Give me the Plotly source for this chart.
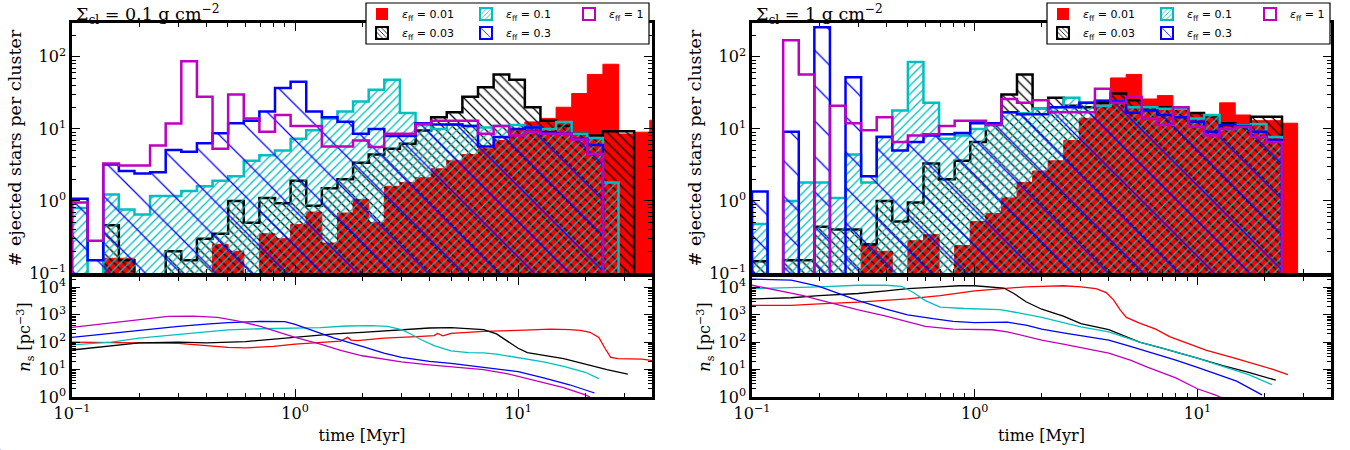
import numpy as np
import plotly.graph_objects as go

# ---------------- binning of the ejection-time histograms ----------------
LOG_T_MIN = -1.0   # log10(first bin edge / Myr)
DLOG_BIN = 0.07    # bin width in dex

EFF_LABELS = ["0.01", "0.03", "0.1", "0.3", "1"]

# ---------------- Sigma_cl = 0.1 g cm^-2 : ejected stars per cluster ----------------
hist_s01_e001 = [0, 0, 0.16, 0.16, 0, 0, 0, 0, 0, 0.25, 0.2, 0, 0.35, 0.3, 0.47, 0.7, 0.26, 0.68,
                 1.05, 0.5, 1.6, 1.8, 2.1, 2.8, 3.6, 4.4, 5.3, 6.9, 9.5, 12.5, 14, 20, 31, 57, 79,
                 8.5, 9, 13.2]
hist_s01_e003 = [0, 0, 0.46, 0.15, 0, 0, 0.2, 0.15, 0.3, 0.35, 1.0, 0.5, 1.1, 0.93, 1.9, 0.86, 1.5,
                 2.0, 3.4, 4.4, 5.3, 6.2, 9.5, 14.5, 17, 28, 38, 57, 48, 20, 13, 11, 8.6, 8.1, 9.3, 9.3]
hist_s01_e01 = [0.8, 0, 1.23, 0.76, 0.65, 1.17, 1.17, 1.37, 1.6, 1.9, 2.2, 3.6, 4.3, 5.0, 7.3, 9.6,
                14, 17.4, 24, 35, 48, 16.6, 11.3, 10, 11.5, 11, 10.5, 11, 11.3, 10.5, 10, 12.5, 8.6,
                7.5, 1.8]
hist_s01_e03 = [1.07, 0.15, 3.2, 2.6, 2.4, 2.5, 5.1, 4.8, 6.3, 8.7, 12, 13, 17.4, 37, 45, 17.4, 14.5,
                12.6, 8.6, 10, 8, 8, 12, 11.5, 11.5, 11, 5.7, 7.7, 10, 10.5, 9, 8.6, 7.3, 6]
hist_s01_e1 = [0.95, 0.28, 3.3, 3.1, 3.1, 5.9, 11.9, 87, 28, 5.3, 30, 14, 9.1, 15.6, 11, 11, 5.7, 5.7,
               6.9, 5.6, 8.6, 8.6, 11.7, 13, 13, 13, 8.6, 11, 8.1, 9.1, 8.6, 8.6, 7.1, 4.5]

# ---------------- Sigma_cl = 1 g cm^-2 : ejected stars per cluster ----------------
hist_s1_e001 = [0, 0, 0, 0, 0, 0, 0, 0.245, 0.2, 0, 0.28, 0.34, 0, 0.24, 0.52, 0.67, 1.1, 1.8, 2.6,
                3.6, 6.9, 14, 25, 51, 57, 26, 29, 20, 16, 15.6, 23, 15.6, 13, 13, 12]
hist_s1_e003 = [0.145, 0, 0.15, 0.15, 0.44, 0.4, 0.4, 0.25, 1.0, 0.52, 0.95, 3.3, 2.0, 3.6, 6.6, 12,
                30, 57, 19, 27, 21, 20, 23, 31, 25, 19, 20, 19, 16.6, 15, 12, 11.3, 14.8, 14.8]
hist_s1_e01 = [0.48, 0, 1.0, 1.8, 1.8, 1.1, 4.4, 1.8, 7.8, 18, 85, 23, 7.3, 8.1, 10, 11.3, 17, 16.5,
               19, 20, 27, 23, 21, 24, 20, 20, 19, 19, 14, 15.6, 10, 11.3, 11.7, 7.7]
hist_s1_e03 = [1.35, 0, 9.1, 0, 257, 0, 52, 2.2, 7.7, 5.0, 6.6, 8.1, 8.4, 8.8, 12, 12, 17, 16, 16,
               20, 20, 23, 24.6, 24, 16.7, 18, 15.6, 14.5, 12.6, 9.1, 11.3, 11, 9.1, 7]
hist_s1_e1 = [0, 0, 170, 57, 0, 21, 12, 9.6, 14.5, 6.6, 8.1, 8.4, 11, 13, 13, 11.3, 26, 23, 25, 17,
              17, 17, 36, 23, 28, 14, 11.3, 20, 10.7, 8.1, 10, 10.7, 7.7, 6.6]

# ---------------- stellar density n_s(t) [pc^-3], Sigma_cl = 0.1 ----------------
t_s01_e001 = [0.1, 0.2, 0.3, 0.4, 0.5, 0.6, 0.8, 1.0, 1.3, 1.6, 1.72, 1.78, 1.9, 2.5, 3.5, 4.2, 4.35,
              4.6, 5.0, 7.0, 10, 14, 17, 19, 21, 23, 24.5, 26, 28, 32, 36, 40]
n_s01_e001 = [100, 95, 90, 75, 65, 62, 70, 85, 100, 110, 150, 120, 115, 140, 160, 175, 210, 170, 210,
              250, 270, 300, 290, 270, 230, 150, 60, 28, 25, 25, 24, 21]
t_s01_e003 = [0.1, 0.15, 0.2, 0.3, 0.4, 0.6, 0.8, 1.0, 1.5, 2.0, 2.5, 3.0, 4.0, 5.0, 6.0, 7.0, 8.0,
              9.0, 10, 11, 13, 16, 20, 25, 31]
n_s01_e003 = [52, 75, 95, 100, 95, 105, 130, 150, 200, 230, 260, 290, 330, 340, 320, 290, 200, 110,
              60, 42, 33, 25, 16, 10, 6.8]
t_s01_e01 = [0.1, 0.15, 0.2, 0.3, 0.5, 0.7, 1.0, 1.3, 1.7, 2.2, 2.6, 3.0, 3.3, 3.7, 4.2, 5.0, 6.0,
             7.0, 8.0, 10, 13, 16, 20, 23]
n_s01_e01 = [80, 100, 140, 190, 280, 310, 320, 340, 390, 400, 380, 290, 200, 120, 75, 48, 42, 41, 37,
             27, 19, 13, 8, 4.7]
t_s01_e03 = [0.1, 0.2, 0.3, 0.4, 0.5, 0.7, 0.9, 1.0, 1.2, 1.5, 2.0, 2.5, 3.0, 4.0, 5.0, 7.0, 10, 13,
             17, 22]
n_s01_e03 = [150, 280, 380, 460, 520, 570, 560, 450, 260, 140, 70, 40, 28, 20, 17, 12, 8.5, 5, 2.8,
             1.4]
t_s01_e1 = [0.1, 0.15, 0.2, 0.27, 0.35, 0.45, 0.55, 0.7, 0.85, 1.0, 1.3, 1.6, 2.0, 2.5, 3.0, 4.0,
            5.0, 7.0, 9.0, 12, 16, 20, 21]
n_s01_e1 = [350, 500, 680, 880, 900, 800, 600, 380, 230, 150, 85, 50, 32, 24, 19, 15, 13, 10, 7, 4,
            2.2, 1.2, 1.0]

# ---------------- stellar density n_s(t) [pc^-3], Sigma_cl = 1 ----------------
t_s1_e001 = [0.1, 0.15, 0.2, 0.3, 0.5, 0.7, 1.0, 1.3, 1.7, 2.0, 2.5, 3.0, 3.5, 3.9, 4.2, 4.5, 4.8,
             5.5, 6.5, 7.5, 9.4, 11, 14.7, 18, 22, 25.5]
n_s1_e001 = [2200, 2200, 2500, 2900, 3800, 5000, 7500, 9000, 10500, 11000, 11500, 10500, 9000, 6500,
             3500, 1500, 800, 500, 300, 160, 80, 50, 26, 16, 10, 6.5]
t_s1_e003 = [0.1, 0.15, 0.2, 0.3, 0.4, 0.5, 0.7, 0.85, 1.0, 1.2, 1.35, 1.5, 1.7, 2.0, 2.5, 3.0, 4.0,
             5.5, 7.0, 10, 13, 17, 22.5]
n_s1_e003 = [3800, 4200, 5000, 6000, 7500, 9000, 10500, 11500, 11500, 10500, 9500, 6000, 3000, 1600,
             900, 480, 290, 100, 60, 26, 14, 8, 4.1]
t_s1_e01 = [0.1, 0.15, 0.2, 0.3, 0.4, 0.47, 0.53, 0.6, 0.7, 0.9, 1.1, 1.3, 1.6, 2.0, 2.5, 3.0, 4.0,
            5.5, 7.0, 10, 13, 17, 21.6]
n_s1_e01 = [9000, 9500, 10500, 12000, 12000, 11000, 6500, 3300, 1900, 1700, 1650, 1550, 1150, 800,
            520, 360, 240, 100, 60, 26, 13, 6.5, 2.8]
t_s1_e03 = [0.1, 0.15, 0.2, 0.25, 0.3, 0.4, 0.5, 0.65, 0.8, 1.0, 1.2, 1.4, 1.7, 2.0, 2.5, 3.0, 4.0,
            5.0, 6.0, 8.0, 10, 12, 15, 19.5]
n_s1_e03 = [20000, 18500, 11000, 5500, 3300, 1600, 1000, 720, 580, 520, 540, 540, 420, 300, 220, 170,
            120, 70, 45, 22, 12, 7, 3.8, 1.2]
t_s1_e1 = [0.1, 0.13, 0.17, 0.2, 0.25, 0.3, 0.4, 0.5, 0.6, 0.8, 1.0, 1.2, 1.4, 1.7, 2.0, 2.5, 3.0,
           4.0, 5.0, 6.0, 8.0, 10, 12, 13]
n_s1_e1 = [12000, 8000, 5000, 3500, 2200, 1500, 900, 550, 380, 300, 290, 285, 240, 160, 120, 85, 65,
           40, 22, 12, 5, 2.0, 1.2, 0.9]

# ---------------- styling ----------------
COLORS = ["#ff0000", "#000000", "#00bfbf", "#0000ff", "#bf00bf"]
SERIF = "DejaVu Serif"
SANS = "DejaVu Sans"
FLOOR = 1e-3  # stand-in for empty bins on the log axis (below the visible range)

fig = go.Figure()


def step_xy(counts):
    n = len(counts)
    edges = 10 ** (LOG_T_MIN + DLOG_BIN * np.arange(n + 1))
    vals = [c if c > 0 else FLOOR for c in counts]
    xs, ys = [edges[0]], [FLOOR]
    for i in range(n):
        xs += [edges[i], edges[i + 1]]
        ys += [vals[i], vals[i]]
    xs += [edges[n]]
    ys += [FLOOR]
    return xs, ys


def add_hist(counts, idx, xa, ya):
    xs, ys = step_xy(counts)
    c = COLORS[idx]
    kw = dict(x=xs, y=ys, mode="lines", fill="toself", xaxis=xa, yaxis=ya,
              showlegend=False, hoverinfo="skip")
    if idx == 0:
        kw.update(line=dict(color=c, width=1), fillcolor=c)
    elif idx == 1:
        kw.update(line=dict(color=c, width=2.5), fillcolor="rgba(0,0,0,0)",
                  fillpattern=dict(shape="\\", fgcolor=c, bgcolor="rgba(0,0,0,0)",
                                   size=7, solidity=0.18, fillmode="replace"))
    elif idx == 2:
        kw.update(line=dict(color=c, width=2.5), fillcolor="rgba(0,0,0,0)",
                  fillpattern=dict(shape="/", fgcolor=c, bgcolor="rgba(0,0,0,0)",
                                   size=6, solidity=0.22, fillmode="replace"))
    elif idx == 3:
        kw.update(line=dict(color=c, width=2.5), fillcolor="rgba(0,0,0,0)",
                  fillpattern=dict(shape="\\", fgcolor=c, bgcolor="rgba(0,0,0,0)",
                                   size=25, solidity=0.05, fillmode="replace"))
    else:
        kw.update(line=dict(color=c, width=2.5), fill="none")
    fig.add_trace(go.Scatter(**kw))


def add_line(t, n, idx, xa, ya):
    fig.add_trace(go.Scatter(x=t, y=n, mode="lines", xaxis=xa, yaxis=ya,
                             line=dict(color=COLORS[idx], width=1.3),
                             showlegend=False, hoverinfo="skip"))


panels = [
    dict(hists=[hist_s01_e001, hist_s01_e003, hist_s01_e01, hist_s01_e03, hist_s01_e1],
         lines=[(t_s01_e001, n_s01_e001), (t_s01_e003, n_s01_e003), (t_s01_e01, n_s01_e01),
                (t_s01_e03, n_s01_e03), (t_s01_e1, n_s01_e1)],
         xt="x", yt="y", xb="x2", yb="y2", legs=("legend", "legend2", "legend3"), box=366),
    dict(hists=[hist_s1_e001, hist_s1_e003, hist_s1_e01, hist_s1_e03, hist_s1_e1],
         lines=[(t_s1_e001, n_s1_e001), (t_s1_e003, n_s1_e003), (t_s1_e01, n_s1_e01),
                (t_s1_e03, n_s1_e03), (t_s1_e1, n_s1_e1)],
         xt="x3", yt="y3", xb="x4", yb="y4", legs=("legend4", "legend5", "legend6"), box=1047),
]

for p in panels:
    for i, h in enumerate(p["hists"]):
        add_hist(h, i, p["xt"], p["yt"])
    for i, (t, n) in enumerate(p["lines"]):
        add_line(t, n, i, p["xb"], p["yb"])

# legend entries (zero-height bars on a hidden axis so the swatches show the hatches)
# matplotlib ncol=3 layout: row 1 -> 0.01, 0.1 | 1 ; row 2 -> 0.03, 0.3
LEG_SLOTS = [(0, 0), (2, 0), (4, 2), (1, 1), (3, 1)]  # (series index, legend slot)
for p in panels:
    for idx, slot in LEG_SLOTS:
        c = COLORS[idx]
        if idx == 0:
            marker = dict(color=c, line=dict(color=c, width=0))
        elif idx == 4:
            marker = dict(color="white", line=dict(color=c, width=2))
        else:
            shape = {1: "\\", 2: "/", 3: "\\"}[idx]
            size = {1: 4, 2: 4, 3: 10}[idx]
            marker = dict(color="white", line=dict(color=c, width=2),
                          pattern=dict(shape=shape, fgcolor=c, bgcolor="white", size=size,
                                       solidity=0.25 if idx != 3 else 0.1, fillmode="replace"))
        fig.add_trace(go.Bar(x=[0], y=[0], xaxis="x5", yaxis="y5", marker=marker,
                             name="<i>ε</i><sub>ff</sub> = " + EFF_LABELS[idx],
                             legend=p["legs"][slot], hoverinfo="skip"))

W, H = 1350, 450
LX = [72 / W, 652 / W]
RX = [752 / W, 1331 / W]
TOPY = [1 - 273 / H, 1 - 23 / H]
BOTY = [1 - 397 / H, 1 - 277 / H]

minor = dict(ticks="inside", ticklen=4, tickwidth=1, tickcolor="black", dtick="D1", showgrid=False)
common = dict(type="log", showline=True, linewidth=2.5, linecolor="black", mirror="allticks",
              ticks="inside", ticklen=8, tickwidth=1.2, tickcolor="black", showgrid=False,
              zeroline=False, minor=minor, automargin=False,
              tickfont=dict(family=SERIF, size=16, color="black"))


def sup(p):
    return "10<sup>" + (str(p) if p >= 0 else "\u2212" + str(-p)) + "</sup>"


xtv = [0.1, 1, 10]
xtt = [sup(-1), sup(0), sup(1)]
ytv_top = [0.1, 1, 10, 100]
ytt_top = [sup(-1), sup(0), sup(1), sup(2)]
ytv_bot = [1, 10, 100, 1000, 10000]
ytt_bot = [sup(0), sup(1), sup(2), sup(3), sup(4)]

XRANGE = [-1, 1.6]
YTOP_RANGE = [-1, 2.47]
YBOT_RANGE = [0, 4.38]

ytitle_font = dict(family=SERIF, size=17.5, color="black")
xtitle_font = dict(family=SERIF, size=16, color="black")

layout_axes = {}
for k, (xd, xt, yt, xb, yb) in enumerate([(LX, "xaxis", "yaxis", "xaxis2", "yaxis2"),
                                          (RX, "xaxis3", "yaxis3", "xaxis4", "yaxis4")]):
    ya_t = yt.replace("axis", "")
    ya_b = yb.replace("axis", "")
    xa_t = xt.replace("axis", "")
    xa_b = xb.replace("axis", "")
    layout_axes[xt] = dict(common, domain=xd, anchor=ya_t, range=XRANGE, tickvals=xtv, ticktext=xtt,
                           showticklabels=False)
    layout_axes[yt] = dict(common, domain=TOPY, anchor=xa_t, range=YTOP_RANGE, tickvals=ytv_top,
                           ticktext=ytt_top,
                           title=dict(text="# ejected stars per cluster", font=ytitle_font,
                                      standoff=4))
    layout_axes[xb] = dict(common, domain=xd, anchor=ya_b, range=XRANGE, tickvals=xtv, ticktext=xtt,
                           title=dict(text="time [Myr]", font=xtitle_font, standoff=8))
    layout_axes[yb] = dict(common, domain=BOTY, anchor=xa_b, range=YBOT_RANGE, tickvals=ytv_bot,
                           ticktext=ytt_bot,
                           title=dict(text="<i>n</i><sub>s</sub> [pc<sup>\u22123</sup>]",
                                      font=xtitle_font, standoff=4))

layout_axes["xaxis5"] = dict(domain=[0, 0.001], anchor="y5", visible=False)
layout_axes["yaxis5"] = dict(domain=[0, 0.001], anchor="x5", visible=False)

leg_common = dict(orientation="h", xanchor="left", yanchor="middle", bgcolor="rgba(0,0,0,0)",
                  borderwidth=0, entrywidthmode="pixels", itemclick=False,
                  itemdoubleclick=False, font=dict(family=SANS, size=11, color="black"))

ROW1_Y = 1 - 14 / H
ROW2_Y = 1 - 33 / H
legends = {}
for p in panels:
    b = p["box"]
    legends[p["legs"][0]] = dict(leg_common, x=(b - 4) / W, y=ROW1_Y, entrywidth=59)
    legends[p["legs"][1]] = dict(leg_common, x=(b - 4) / W, y=ROW2_Y, entrywidth=59)
    legends[p["legs"][2]] = dict(leg_common, x=(b + 203) / W, y=ROW1_Y, entrywidth=36)

fig.update_layout(
    width=W, height=H, margin=dict(l=0, r=0, t=0, b=0, autoexpand=False),
    paper_bgcolor="white", plot_bgcolor="white",
    shapes=[
        dict(type="rect", xref="paper", yref="paper", x0=p["box"] / W, x1=(p["box"] + 283) / W,
             y0=1 - 44 / H, y1=1 - 3 / H, fillcolor="white", line=dict(color="black", width=1.2),
             layer="above")
        for p in panels
    ],
    annotations=[
        dict(text="\u03a3<sub>cl</sub> = 0.1 g cm<sup>\u22122</sup>", xref="paper", yref="paper",
             x=74 / W, y=1.0, xanchor="left", yanchor="top", showarrow=False,
             font=dict(family=SERIF, size=17.5, color="black")),
        dict(text="\u03a3<sub>cl</sub> = 1 g cm<sup>\u22122</sup>", xref="paper", yref="paper",
             x=754 / W, y=1.0, xanchor="left", yanchor="top", showarrow=False,
             font=dict(family=SERIF, size=17.5, color="black")),
    ],
    **legends,
    **layout_axes,
)

fig.write_html("out.html")
